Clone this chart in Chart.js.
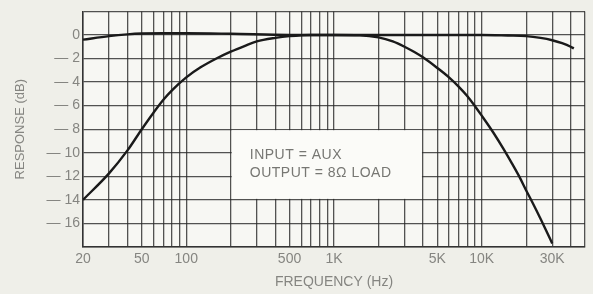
<!DOCTYPE html>
<html>
<head>
<meta charset="utf-8">
<script src="https://cdn.jsdelivr.net/npm/chart.js@4.4.1/dist/chart.umd.min.js"></script>
<style>
  html, body { margin: 0; padding: 0; background: #efefe9; }
  #wrap { width: 593px; height: 294px; position: relative; }
</style>
</head>
<body>
<div id="wrap"><canvas id="resp"></canvas></div>
<script>
// Wide curve (flat across the band)
const wideFreq = [20, 30, 40, 50, 70, 100, 200, 500, 1000, 2000, 5000, 10000, 15000, 20000, 25000, 30000, 35000, 40000, 42000];
const wideDb   = [-0.4, -0.1, 0.05, 0.12, 0.15, 0.15, 0.1, 0, 0, 0, 0, 0, -0.05, -0.1, -0.25, -0.45, -0.7, -1.0, -1.15];

// Narrow curve (rolls off at both ends)
const narrowFreq = [20, 30, 40, 50, 60, 70, 80, 100, 125, 160, 200, 250, 300, 400, 500, 700, 1000, 1500,
                    2000, 2500, 3000, 3500, 4000, 5000, 6000, 7000, 8000, 9000, 10000, 12000, 14000, 16000,
                    18000, 20000, 22000, 25000, 28000, 30000];
const narrowDb   = [-14.0, -11.75, -9.8, -8.0, -6.6, -5.5, -4.7, -3.6, -2.75, -2.0, -1.42, -0.92, -0.55, -0.25, -0.1, 0, 0, -0.02,
                    -0.2, -0.55, -1.0, -1.45, -1.9, -2.8, -3.6, -4.4, -5.2, -6.05, -6.85, -8.3, -9.65, -10.9,
                    -12.05, -13.2, -14.2, -15.6, -16.9, -17.7];

// Grid lines on the frequency axis and which of them carry labels
const freqGrid = [20, 30, 40, 50, 60, 70, 80, 90, 100, 200, 300, 400, 500, 600, 700, 800, 900,
                  1000, 2000, 3000, 4000, 5000, 6000, 7000, 8000, 9000, 10000, 20000, 30000, 40000, 50000];
const freqLabels = { 20: '20', 50: '50', 100: '100', 500: '500', 1000: '1K', 5000: '5K', 10000: '10K', 30000: '30K' };
const dbTicks = [0, -2, -4, -6, -8, -10, -12, -14, -16];

const noteLines = ['INPUT = AUX', 'OUTPUT = 8\u03A9 LOAD'];

const toPts = (xs, ys) => xs.map((x, i) => ({ x: x, y: ys[i] }));
const FONT = "'Liberation Sans', 'Helvetica', sans-serif";
const inkGray = '#858581';
const gridColor = 'rgba(40, 40, 40, 0.8)';

// white note box sitting over the grid (200 Hz..4 kHz, -8..-14 dB)
const noteBox = {
    id: 'noteBox',
    beforeDatasetsDraw(chart) {
        const { ctx, scales: { x, y } } = chart;
        const l = x.getPixelForValue(200), r = x.getPixelForValue(4000);
        const t = y.getPixelForValue(-8), b = y.getPixelForValue(-14);
        ctx.save();
        ctx.fillStyle = '#fbfbf8';
        ctx.fillRect(l + 1, t + 1, r - l - 2, b - t - 2);
        ctx.fillStyle = '#777773';
        ctx.font = '14px ' + FONT;
        ctx.letterSpacing = '0.5px';
        ctx.textBaseline = 'middle';
        ctx.fillText(noteLines[0], l + 19, t + 26);
        ctx.fillText(noteLines[1], l + 19, t + 44);
        ctx.restore();
    }
};

// slightly lighter paper inside the plot
const plotPaper = {
    id: 'plotPaper',
    beforeDraw(chart) {
        const { ctx, chartArea: a } = chart;
        ctx.save();
        ctx.fillStyle = '#f7f7f3';
        ctx.fillRect(a.left, a.top, a.right - a.left, a.bottom - a.top);
        ctx.restore();
    }
};

new Chart(document.getElementById('resp'), {
    type: 'line',
    data: {
        datasets: [
            {
                data: toPts(wideFreq, wideDb),
                borderColor: '#1a1a1a',
                borderWidth: 2.4,
                pointRadius: 0,
                cubicInterpolationMode: 'monotone',
                fill: false
            },
            {
                data: toPts(narrowFreq, narrowDb),
                borderColor: '#1a1a1a',
                borderWidth: 2.4,
                pointRadius: 0,
                cubicInterpolationMode: 'monotone',
                fill: false
            }
        ]
    },
    options: {
        responsive: true,
        maintainAspectRatio: false,
        animation: false,
        layout: { padding: { left: 13, right: 8, top: 8, bottom: 0 } },
        plugins: { legend: { display: false }, tooltip: { enabled: false } },
        scales: {
            x: {
                type: 'logarithmic',
                min: 20,
                max: 50000,
                afterBuildTicks: (s) => { s.ticks = freqGrid.map(v => ({ value: v })); },
                afterFit: (s) => { s.height = 47; },
                grid: { color: gridColor, lineWidth: 1.3, drawTicks: false },
                border: { color: '#333', width: 1.5 },
                ticks: {
                    autoSkip: false,
                    maxRotation: 0,
                    padding: 4,
                    color: inkGray,
                    font: { family: FONT, size: 14 },
                    callback: (v) => freqLabels[v] || ''
                },
                title: {
                    display: true,
                    text: 'FREQUENCY (Hz)',
                    color: inkGray,
                    font: { family: FONT, size: 14 },
                    padding: { top: 0, bottom: 3 }
                }
            },
            y: {
                min: -18,
                max: 2,
                ticks: {
                    stepSize: 2,
                    padding: 3,
                    color: inkGray,
                    font: { family: FONT, size: 14 },
                    callback: (v) => dbTicks.includes(v) ? (v < 0 ? '\u2014 ' + Math.abs(v) : '0') : ''
                },
                afterFit: (s) => { s.width = 70; },
                grid: { color: gridColor, lineWidth: 1.3, drawTicks: false },
                border: { color: '#333', width: 1.5 },
                title: {
                    display: true,
                    text: 'RESPONSE (dB)',
                    color: inkGray,
                    font: { family: FONT, size: 13 },
                    padding: { top: 0, bottom: 4 }
                }
            }
        }
    },
    plugins: [plotPaper, noteBox]
});
</script>
</body>
</html>
